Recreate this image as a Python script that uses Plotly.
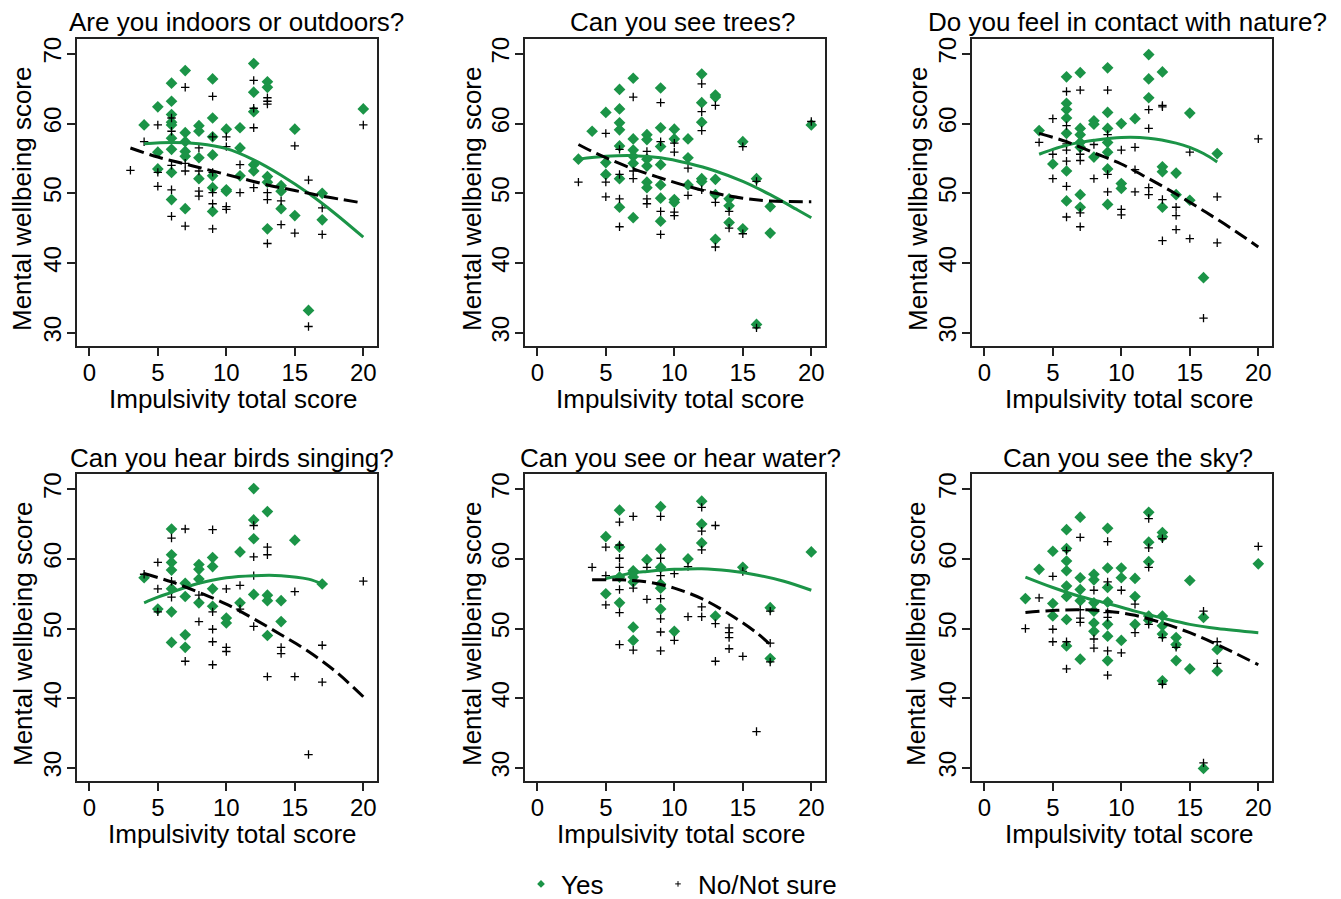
import plotly.graph_objects as go

# ---------------------------------------------------------------------------
# Mental wellbeing vs impulsivity, split by each nature-exposure question.
# Each group is a list of (impulsivity score, wellbeing score) points; the
# *_fit lists hold the quadratic fit of each group, sampled along x.
# ---------------------------------------------------------------------------

panel_titles = [
    "Are you indoors or outdoors?",
    "Can you see trees?",
    "Do you feel in contact with nature?",
    "Can you hear birds singing?",
    "Can you see or hear water?",
    "Can you see the sky?",
]
x_title = "Impulsivity total score"
y_title = "Mental wellbeing score"
legend_labels = ["Yes", "No/Not sure"]
x_ticks = [0, 5, 10, 15, 20]
y_ticks = [30, 40, 50, 60, 70]

# --- Are you indoors or outdoors? ---
indoors_yes = [(4, 59.8), (5, 62.4), (5, 55.9), (5, 53.5), (6, 65.8), (6, 63.2), (6, 61.3), (6, 60.2),
               (6, 59.8), (6, 57.9), (6, 56.3), (6, 53.0), (6, 49.1), (7, 67.6), (7, 58.7), (7, 57.4),
               (7, 56.0), (7, 55.3), (7, 47.8), (8, 59.7), (8, 58.9), (8, 55.1), (8, 52.1), (9, 66.4),
               (9, 60.8), (9, 58.1), (9, 55.5), (9, 52.5), (9, 50.8), (9, 47.4), (10, 59.2), (10, 50.5),
               (10, 50.3), (11, 59.4), (11, 56.5), (11, 52.5), (12, 68.6), (12, 64.5), (12, 61.7),
               (12, 54.1), (12, 53.2), (13, 66.0), (13, 65.2), (13, 52.4), (13, 51.6), (13, 44.9),
               (14, 51.1), (14, 50.3), (14, 47.8), (15, 59.2), (15, 46.8), (16, 33.2), (17, 50.0),
               (17, 46.2), (20, 62.1)]
indoors_no = [(3, 53.3), (4, 57.4), (5, 59.8), (5, 53.0), (5, 51.0), (6, 60.8), (6, 58.9), (6, 54.0),
              (6, 50.5), (6, 46.7), (7, 65.2), (7, 54.3), (7, 53.2), (7, 45.3), (8, 56.5), (8, 53.2),
              (8, 50.3), (8, 49.6), (9, 63.9), (9, 58.1), (9, 53.0), (9, 50.1), (9, 48.5), (9, 44.9),
              (10, 58.1), (10, 56.7), (10, 48.1), (10, 47.7), (11, 54.1), (11, 50.1), (12, 66.2),
              (12, 62.2), (12, 59.4), (12, 50.8), (13, 63.7), (13, 63.2), (13, 62.8), (13, 50.1),
              (13, 49.1), (13, 42.8), (14, 48.9), (14, 45.5), (15, 56.8), (15, 44.3), (16, 51.9),
              (16, 30.9), (17, 47.9), (17, 44.1), (20, 59.8)]
indoors_yes_fit = [(4, 57.1), (6, 57.3), (8, 57.1), (10, 56.4), (12, 54.8), (14, 52.6), (16, 50.0),
                   (18, 47.0), (20, 43.7)]
indoors_no_fit = [(3, 56.5), (5, 55.2), (7, 54.2), (9, 53.2), (11, 52.2), (13, 51.2), (15, 50.4),
                  (17, 49.6), (20, 48.6)]

# --- Can you see trees? ---
trees_yes = [(3, 54.9), (4, 58.9), (5, 61.6), (5, 54.4), (5, 52.7), (6, 64.9), (6, 62.1), (6, 60.1),
             (6, 59.1), (6, 56.8), (6, 52.1), (6, 48.0), (7, 66.5), (7, 57.8), (7, 56.2), (7, 55.3),
             (7, 54.3), (7, 46.5), (8, 58.4), (8, 57.7), (8, 54.9), (8, 53.9), (8, 51.6), (8, 50.8),
             (9, 65.1), (9, 59.4), (9, 56.7), (9, 54.1), (9, 51.2), (9, 49.3), (9, 46.0), (10, 59.2),
             (10, 57.8), (10, 49.1), (10, 48.7), (11, 57.8), (11, 55.1), (11, 51.2), (12, 67.1),
             (12, 63.0), (12, 60.2), (12, 52.1), (12, 51.7), (13, 64.1), (13, 63.8), (13, 52.0),
             (13, 49.8), (13, 43.4), (14, 49.2), (14, 48.2), (14, 45.8), (15, 57.4), (15, 44.9),
             (16, 52.1), (16, 31.2), (17, 48.1), (17, 44.3), (20, 59.8)]
trees_no = [(3, 51.6), (5, 58.6), (5, 51.6), (5, 49.5), (6, 56.3), (6, 52.7), (6, 49.2), (6, 45.2),
            (7, 63.8), (7, 53.2), (7, 52.1), (8, 56.0), (8, 49.2), (8, 48.5), (9, 63.0), (9, 57.4),
            (9, 47.4), (9, 44.1), (10, 57.2), (10, 55.9), (10, 47.3), (10, 46.8), (11, 53.6), (11, 49.7),
            (12, 65.7), (12, 61.7), (12, 59.0), (12, 50.5), (13, 62.6), (13, 48.7), (13, 42.3),
            (14, 47.4), (14, 45.0), (15, 56.7), (15, 44.2), (16, 51.7), (16, 30.7), (20, 60.3)]
trees_yes_fit = [(3, 54.9), (5, 55.3), (7, 55.4), (9, 55.1), (11, 54.3), (13, 53.2), (15, 51.7),
                 (17, 49.8), (19, 47.6), (20, 46.5)]
trees_no_fit = [(3, 57.0), (4, 56.0), (5, 55.1), (7, 53.5), (9, 52.2), (11, 51.0), (13, 50.0),
                (15, 49.3), (17, 48.9), (20, 48.8)]

# --- Do you feel in contact with nature? ---
nature_yes = [(4, 59.0), (5, 54.2), (6, 66.7), (6, 62.9), (6, 62.0), (6, 60.8), (6, 58.6), (6, 53.2),
              (6, 48.9), (7, 67.3), (7, 59.3), (7, 58.4), (7, 57.3), (7, 56.6), (7, 49.8), (7, 48.0),
              (8, 60.4), (8, 59.9), (8, 55.2), (9, 68.0), (9, 61.6), (9, 59.3), (9, 57.3), (9, 55.9),
              (9, 53.5), (9, 48.4), (10, 60.0), (10, 51.4), (10, 50.7), (11, 60.7), (12, 69.9),
              (12, 66.4), (12, 63.7), (13, 67.4), (13, 53.8), (13, 53.1), (13, 48.0), (14, 52.9),
              (14, 49.8), (15, 61.5), (15, 49.0), (16, 37.9), (17, 55.7)]
nature_no = [(4, 57.3), (5, 60.7), (5, 55.6), (5, 52.1), (6, 64.6), (6, 59.7), (6, 57.1), (6, 56.2),
             (6, 54.6), (6, 51.0), (6, 46.6), (7, 64.8), (7, 55.6), (7, 54.7), (7, 47.2), (7, 45.2),
             (8, 57.0), (8, 52.1), (9, 64.8), (9, 58.4), (9, 52.7), (9, 50.2), (10, 56.2), (10, 47.7),
             (10, 46.9), (11, 56.6), (11, 53.4), (11, 50.2), (12, 62.0), (12, 59.3), (12, 50.8),
             (12, 49.8), (13, 62.6), (13, 62.4), (13, 49.1), (13, 43.2), (14, 48.0), (14, 46.8),
             (14, 44.8), (15, 55.9), (15, 43.5), (16, 32.1), (17, 49.5), (17, 42.9), (20, 57.8)]
nature_yes_fit = [(4, 55.6), (5, 56.3), (6, 56.9), (7, 57.3), (8, 57.6), (10, 58.0), (12, 57.9),
                  (14, 57.2), (15, 56.6), (16, 55.7), (17, 54.5)]
nature_no_fit = [(4, 58.6), (6, 57.4), (8, 55.8), (10, 54.2), (12, 52.1), (14, 49.9), (16, 47.5),
                 (18, 45.0), (20, 42.3)]

# --- Can you hear birds singing? ---
birds_yes = [(4, 57.3), (5, 52.8), (6, 64.3), (6, 60.6), (6, 59.5), (6, 58.4), (6, 55.7), (6, 52.4),
             (6, 48.0), (7, 56.5), (7, 54.6), (7, 49.1), (7, 47.3), (8, 59.2), (8, 58.5), (8, 57.1),
             (8, 53.7), (9, 60.2), (9, 58.9), (9, 55.7), (9, 53.2), (10, 51.5), (10, 50.8), (11, 61.0),
             (11, 53.7), (12, 70.1), (12, 65.6), (12, 62.9), (12, 54.9), (13, 66.8), (13, 54.8),
             (13, 54.0), (13, 49.0), (14, 54.0), (14, 51.0), (15, 62.7), (17, 56.4)]
birds_no = [(4, 57.8), (5, 59.5), (5, 55.7), (5, 52.4), (6, 63.0), (6, 56.8), (6, 54.5), (7, 64.3),
            (7, 45.3), (8, 54.8), (8, 51.0), (9, 64.2), (9, 52.4), (9, 49.9), (9, 48.1), (9, 44.8),
            (10, 55.7), (10, 47.3), (10, 46.7), (11, 56.2), (11, 52.8), (12, 64.8), (12, 60.3),
            (12, 57.6), (12, 50.3), (13, 61.7), (13, 60.6), (13, 43.1), (14, 47.3), (14, 46.4),
            (15, 55.3), (15, 43.1), (16, 31.9), (17, 47.6), (17, 42.3), (20, 56.8)]
birds_yes_fit = [(4, 53.7), (5, 54.5), (6, 55.2), (7, 55.9), (8, 56.5), (10, 57.3), (12, 57.6),
                 (14, 57.6), (16, 57.1), (17, 56.4)]
birds_no_fit = [(4, 57.9), (6, 56.7), (8, 55.2), (10, 53.5), (12, 51.4), (14, 49.1), (16, 46.7),
                (18, 43.8), (20, 40.2)]

# --- Can you see or hear water? ---
water_yes = [(5, 63.2), (5, 55.0), (6, 67.0), (6, 61.7), (6, 57.4), (6, 53.7), (7, 58.3), (7, 58.0),
             (7, 57.4), (7, 56.7), (7, 50.2), (7, 48.3), (8, 59.9), (9, 67.5), (9, 61.4), (9, 58.8),
             (9, 56.4), (9, 55.8), (9, 52.8), (10, 49.6), (11, 60.0), (12, 68.3), (12, 65.0),
             (12, 62.3), (13, 51.8), (15, 58.8), (17, 53.0), (17, 45.7), (20, 61.0)]
water_no = [(4, 58.8), (5, 61.7), (5, 57.6), (5, 53.4), (6, 65.3), (6, 62.0), (6, 60.1), (6, 58.8),
            (6, 55.6), (6, 52.3), (6, 47.7), (7, 66.1), (7, 55.8), (7, 46.9), (8, 58.8), (8, 54.2),
            (9, 66.1), (9, 60.1), (9, 57.6), (9, 54.3), (9, 51.4), (9, 49.5), (9, 46.8), (10, 57.9),
            (10, 48.3), (11, 58.9), (11, 51.7), (12, 67.4), (12, 64.0), (12, 61.3), (12, 53.1),
            (12, 51.7), (13, 64.8), (13, 50.7), (13, 45.3), (14, 50.1), (14, 49.4), (14, 48.7),
            (14, 47.1), (15, 58.2), (15, 46.0), (16, 35.2), (17, 52.5), (17, 47.9), (17, 45.2)]
water_yes_fit = [(5, 57.2), (6, 57.6), (7, 58.0), (8, 58.2), (10, 58.5), (12, 58.6), (14, 58.3),
                 (16, 57.7), (18, 56.8), (20, 55.5)]
water_no_fit = [(4, 57.0), (6, 57.0), (8, 56.7), (10, 55.8), (12, 54.3), (14, 52.1), (16, 49.4),
                (17, 47.7)]

# --- Can you see the sky? ---
sky_yes = [(3, 54.3), (4, 58.5), (5, 61.1), (5, 53.6), (5, 51.8), (6, 64.2), (6, 61.5), (6, 59.7),
           (6, 58.3), (6, 56.1), (6, 54.6), (6, 51.3), (6, 47.5), (7, 66.0), (7, 57.3), (7, 55.6),
           (7, 54.0), (7, 45.6), (8, 57.8), (8, 57.0), (8, 53.7), (8, 52.5), (8, 50.8), (8, 49.6),
           (9, 64.4), (9, 58.7), (9, 55.9), (9, 53.8), (9, 50.6), (9, 48.9), (9, 45.4), (10, 58.7),
           (10, 57.3), (10, 48.3), (11, 57.2), (11, 54.6), (11, 50.6), (12, 66.7), (12, 62.4),
           (12, 59.6), (12, 51.8), (12, 51.2), (13, 63.8), (13, 63.2), (13, 51.8), (13, 50.4),
           (13, 49.2), (13, 42.5), (14, 48.7), (14, 47.7), (14, 45.4), (15, 56.9), (15, 44.2),
           (16, 51.6), (16, 29.9), (17, 47.0), (17, 43.9), (20, 59.3)]
sky_no = [(3, 50.0), (4, 54.4), (5, 57.5), (5, 49.9), (5, 48.1), (6, 61.2), (6, 48.1), (6, 44.2),
          (7, 63.1), (7, 52.7), (7, 51.5), (7, 50.9), (8, 55.5), (8, 48.5), (8, 47.2), (9, 62.5),
          (9, 56.7), (9, 52.3), (9, 51.6), (9, 46.8), (9, 43.3), (10, 55.5), (10, 46.5), (11, 53.5),
          (11, 49.4), (12, 65.8), (12, 61.6), (12, 58.8), (12, 50.6), (13, 62.9), (13, 48.7),
          (13, 42.0), (14, 47.3), (16, 52.5), (16, 30.7), (17, 48.1), (17, 45.0), (20, 61.8)]
sky_yes_fit = [(3, 57.4), (5, 55.9), (7, 54.6), (9, 53.6), (11, 52.5), (13, 51.5), (15, 50.6),
               (17, 50.0), (20, 49.4)]
sky_no_fit = [(3, 52.3), (5, 52.6), (7, 52.7), (9, 52.5), (11, 51.9), (13, 50.8), (15, 49.4),
              (17, 47.7), (20, 44.8)]

panels = [
    (indoors_yes, indoors_no, indoors_yes_fit, indoors_no_fit),
    (trees_yes, trees_no, trees_yes_fit, trees_no_fit),
    (nature_yes, nature_no, nature_yes_fit, nature_no_fit),
    (birds_yes, birds_no, birds_yes_fit, birds_no_fit),
    (water_yes, water_no, water_yes_fit, water_no_fit),
    (sky_yes, sky_no, sky_yes_fit, sky_no_fit),
]

# ---------------------------------------------------------------------------
# Page geometry (pixels) and styling
# ---------------------------------------------------------------------------
W, H = 1341, 899
GREEN = "#1b9447"
FONT = "Liberation Sans, Arial, sans-serif"

col_px = [(77, 377), (525, 825), (972, 1272)]
row_px = [(38.5, 346), (474, 781)]
title_cx = [[236, 682, 1127], [232, 680, 1128]]
title_cy = [22, 458]
xtitle_cx = [[233, 680, 1129], [232, 681, 1129]]
xtitle_cy = [399, 834]
ytitle_cx = [[22, 472, 918], [23, 472, 916]]
ytitle_cy = [199, 634]

X_RANGE = [-0.9, 21.0]
Y_RANGE = [28.1, 72.2]


def px_x(v):
    return v / W


def px_y(v):
    return 1 - v / H


def xs(pts):
    return [p[0] for p in pts]


def ys(pts):
    return [p[1] for p in pts]


fig = go.Figure()
annotations = []
layout_axes = {}

for i, (yes_pts, no_pts, yes_fit, no_fit) in enumerate(panels):
    r, c = divmod(i, 3)
    n = "" if i == 0 else str(i + 1)
    xa, ya = "x" + n, "y" + n

    fig.add_trace(go.Scatter(
        x=xs(yes_pts), y=ys(yes_pts), xaxis=xa, yaxis=ya, mode="markers",
        marker=dict(symbol="diamond", size=9, color=GREEN, line=dict(width=0)),
        showlegend=False, hoverinfo="skip"))
    fig.add_trace(go.Scatter(
        x=xs(no_pts), y=ys(no_pts), xaxis=xa, yaxis=ya, mode="markers",
        marker=dict(symbol="cross-thin", size=6, color="black",
                    line=dict(width=1.3, color="black")),
        showlegend=False, hoverinfo="skip"))
    fig.add_trace(go.Scatter(
        x=xs(yes_fit), y=ys(yes_fit), xaxis=xa, yaxis=ya, mode="lines",
        line=dict(color=GREEN, width=3, shape="spline", smoothing=1.0),
        showlegend=False, hoverinfo="skip"))
    fig.add_trace(go.Scatter(
        x=xs(no_fit), y=ys(no_fit), xaxis=xa, yaxis=ya, mode="lines",
        line=dict(color="black", width=3, dash="14px,6px", shape="spline", smoothing=1.0),
        showlegend=False, hoverinfo="skip"))

    x0, x1 = col_px[c]
    y0, y1 = row_px[r]
    axis_common = dict(
        showline=True, mirror=True, linecolor="#222222", linewidth=1.5,
        ticks="outside", ticklen=8, tickwidth=1.5, tickcolor="#222222",
        showgrid=False, zeroline=False,
        tickfont=dict(family=FONT, size=24, color="black"),
    )
    layout_axes["xaxis" + n] = dict(
        axis_common, domain=[px_x(x0), px_x(x1)], range=X_RANGE,
        tickmode="array", tickvals=x_ticks, anchor=ya, ticklabelstandoff=-4)
    layout_axes["yaxis" + n] = dict(
        axis_common, domain=[px_y(y1), px_y(y0)], range=Y_RANGE,
        tickmode="array", tickvals=y_ticks, tickangle=-90, anchor=xa,
        ticklabelstandoff=-3)

    annotations.append(dict(
        text=panel_titles[i], xref="paper", yref="paper",
        x=px_x(title_cx[r][c]), y=px_y(title_cy[r]), xanchor="center", yanchor="middle",
        showarrow=False, font=dict(family=FONT, size=26, color="black")))
    annotations.append(dict(
        text=x_title, xref="paper", yref="paper",
        x=px_x(xtitle_cx[r][c]), y=px_y(xtitle_cy[r]), xanchor="center", yanchor="middle",
        showarrow=False, font=dict(family=FONT, size=26, color="black")))
    annotations.append(dict(
        text=y_title, xref="paper", yref="paper", textangle=-90,
        x=px_x(ytitle_cx[r][c]), y=px_y(ytitle_cy[r]), xanchor="center", yanchor="middle",
        showarrow=False, font=dict(family=FONT, size=26, color="black")))

# Legend entries, one legend box per group so each can be placed on its own
fig.add_trace(go.Scatter(
    x=[None], y=[None], mode="markers", name=legend_labels[0], legend="legend",
    marker=dict(symbol="diamond", size=6, color=GREEN, line=dict(width=0))))
fig.add_trace(go.Scatter(
    x=[None], y=[None], mode="markers", name=legend_labels[1], legend="legend2",
    marker=dict(symbol="cross-thin", size=4, color="black", line=dict(width=1, color="black"))))

legend_common = dict(
    orientation="h", yanchor="middle", y=px_y(884), xanchor="left",
    font=dict(family=FONT, size=26, color="black"), borderwidth=0,
    bgcolor="rgba(0,0,0,0)", itemclick=False, itemdoubleclick=False,
)

fig.update_layout(
    width=W, height=H,
    # keep the panel geometry fixed; the legends sit in the bottom strip
    margin=dict(l=0, r=0, t=0, b=0, autoexpand=False),
    paper_bgcolor="white", plot_bgcolor="white",
    font=dict(family=FONT, color="black"),
    annotations=annotations,
    showlegend=True,
    legend=dict(legend_common, x=px_x(521)),
    legend2=dict(legend_common, x=px_x(658)),
    **layout_axes,
)

fig.write_html("out.html")
